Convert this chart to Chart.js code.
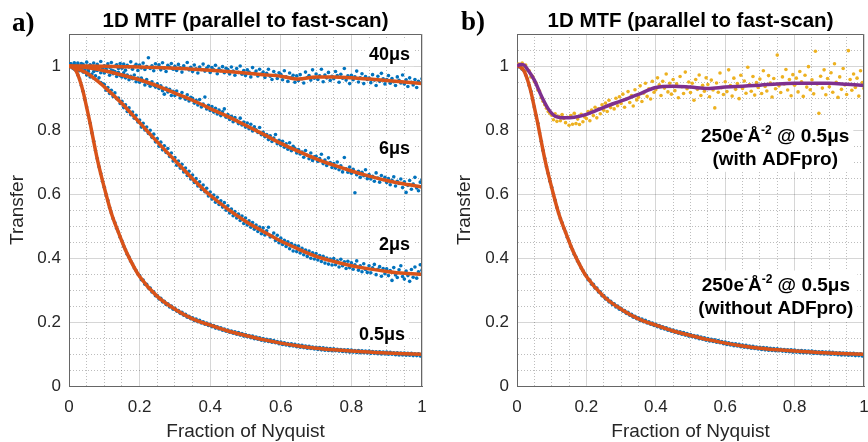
<!DOCTYPE html>
<html>
<head>
<meta charset="utf-8">
<script src="https://cdn.jsdelivr.net/npm/chart.js@4.4.1/dist/chart.umd.min.js"></script>
<style>
  body { margin:0; background:#fff; width:868px; height:442px; overflow:hidden; position:relative; }
  .panel { position:absolute; top:0; width:434px; height:442px; }
  #pa { left:0; }
  #pb { left:434px; }
  .tag { position:absolute; font:bold 27px 'Liberation Serif','Times New Roman',serif; color:#000; line-height:1; }
</style>
</head>
<body>
<div class="panel" id="pa"><canvas id="chartA"></canvas></div>
<div class="panel" id="pb"><canvas id="chartB"></canvas></div>
<div class="tag" style="left:12px;top:9px">a)</div>
<div class="tag" style="left:461px;top:8px">b)</div>
<script>
// ── données ────────────────────────────────────────────────────────────────
const panelTitle = '1D MTF (parallel to fast-scan)';
const xAxisTitle = 'Fraction of Nyquist';
const yAxisTitle = 'Transfer';
const xTickLabels = ['0', '0.2', '0.4', '0.6', '0.8', '1'];
const yTickLabels = ['0', '0.2', '0.4', '0.6', '0.8', '1'];
const runLabels = ['40μs', '6μs', '2μs', '0.5μs'];

// fréquences échantillonnées (fraction de Nyquist)
const nyq = [
  0, 0.005, 0.01, 0.015, 0.02, 0.025, 0.03, 0.035, 0.04, 0.045,
  0.05, 0.055, 0.06, 0.065, 0.07, 0.075, 0.08, 0.085, 0.09, 0.095,
  0.1, 0.105, 0.11, 0.115, 0.12, 0.125, 0.13, 0.135, 0.14, 0.145,
  0.15, 0.155, 0.16, 0.165, 0.17, 0.175, 0.18, 0.185, 0.19, 0.195,
  0.2, 0.205, 0.21, 0.215, 0.22, 0.225, 0.23, 0.235, 0.24, 0.245,
  0.25, 0.255, 0.26, 0.265, 0.27, 0.275, 0.28, 0.285, 0.29, 0.295,
  0.3, 0.305, 0.31, 0.315, 0.32, 0.325, 0.33, 0.335, 0.34, 0.345,
  0.35, 0.355, 0.36, 0.365, 0.37, 0.375, 0.38, 0.385, 0.39, 0.395,
  0.4, 0.405, 0.41, 0.415, 0.42, 0.425, 0.43, 0.435, 0.44, 0.445,
  0.45, 0.455, 0.46, 0.465, 0.47, 0.475, 0.48, 0.485, 0.49, 0.495,
  0.5, 0.505, 0.51, 0.515, 0.52, 0.525, 0.53, 0.535, 0.54, 0.545,
  0.55, 0.555, 0.56, 0.565, 0.57, 0.575, 0.58, 0.585, 0.59, 0.595,
  0.6, 0.605, 0.61, 0.615, 0.62, 0.625, 0.63, 0.635, 0.64, 0.645,
  0.65, 0.655, 0.66, 0.665, 0.67, 0.675, 0.68, 0.685, 0.69, 0.695,
  0.7, 0.705, 0.71, 0.715, 0.72, 0.725, 0.73, 0.735, 0.74, 0.745,
  0.75, 0.755, 0.76, 0.765, 0.77, 0.775, 0.78, 0.785, 0.79, 0.795,
  0.8, 0.805, 0.81, 0.815, 0.82, 0.825, 0.83, 0.835, 0.84, 0.845,
  0.85, 0.855, 0.86, 0.865, 0.87, 0.875, 0.88, 0.885, 0.89, 0.895,
  0.9, 0.905, 0.91, 0.915, 0.92, 0.925, 0.93, 0.935, 0.94, 0.945,
  0.95, 0.955, 0.96, 0.965, 0.97, 0.975, 0.98, 0.985, 0.99, 0.995,
  1
];

// points mesurés (bleus)
const mtf40 = [
  1.000, 1.006, 0.995, 1.010, 0.998, 1.004, 0.991, 1.008, 1.002, 0.996,
  1.012, 0.993, 1.003, 0.999, 1.009, 0.988, 1.005, 0.997, 1.014, 0.994,
  1.001, 0.990, 1.007, 0.996, 1.011, 0.985, 0.999, 1.004, 0.992, 1.008,
  0.993, 1.006, 0.987, 1.002, 0.997, 1.013, 0.990, 0.999, 1.005, 0.986,
  1.003, 0.994, 1.009, 0.989, 0.998, 1.026, 0.992, 1.001, 0.985, 1.007,
  0.996, 1.004, 0.988, 1.010, 0.993, 0.983, 1.002, 0.997, 1.008, 0.990,
  0.999, 0.986, 1.005, 0.994, 0.981, 1.001, 0.992, 1.011, 0.988, 0.996,
  0.983, 1.003, 0.991, 0.978, 0.997, 0.989, 1.006, 0.984, 0.993, 0.999,
  0.980, 0.995, 0.988, 1.002, 0.976, 0.991, 0.985, 0.998, 0.979, 0.993,
  0.989, 0.975, 0.997, 0.984, 0.971, 0.992, 0.980, 1.000, 0.974, 0.986,
  0.970, 0.988, 0.981, 0.966, 0.995, 0.977, 0.984, 0.969, 0.990, 0.975,
  0.981, 0.964, 0.977, 0.990, 0.968, 0.958, 0.983, 0.972, 0.961, 0.979,
  0.974, 0.957, 0.985, 0.966, 0.952, 0.978, 0.963, 0.971, 0.949, 0.969,
  0.955, 0.973, 0.960, 0.947, 0.981, 0.964, 0.970, 0.956, 0.988, 0.962,
  0.975, 0.958, 0.969, 0.990, 0.951, 0.972, 0.963, 0.980, 0.955, 0.968,
  0.960, 0.983, 0.970, 0.949, 0.974, 0.962, 0.992, 0.956, 0.969, 0.945,
  0.971, 0.957, 0.966, 0.984, 0.950, 0.963, 0.976, 0.945, 0.967, 0.958,
  0.962, 0.948, 0.973, 0.956, 0.939, 0.968, 0.952, 0.977, 0.960, 0.944,
  0.958, 0.970, 0.946, 0.961, 0.951, 0.939, 0.966, 0.955, 0.947, 0.972,
  0.944, 0.957, 0.936, 0.963, 0.949, 0.941, 0.958, 0.933, 0.952, 0.946,
  0.960
];
const mtf6 = [
  1.000, 1.007, 0.996, 1.004, 0.992, 1.009, 0.998, 0.990, 1.005, 0.994,
  0.999, 0.988, 1.003, 0.992, 0.983, 0.997, 0.986, 0.995, 0.979, 0.991,
  0.978, 0.990, 0.982, 0.971, 0.987, 0.976, 0.983, 0.967, 0.980, 0.970,
  0.966, 0.979, 0.963, 0.972, 0.957, 0.968, 0.960, 0.972, 0.951, 0.962,
  0.949, 0.962, 0.953, 0.941, 0.958, 0.945, 0.937, 0.951, 0.940, 0.934,
  0.944, 0.930, 0.938, 0.923, 0.912, 0.931, 0.919, 0.927, 0.908, 0.921,
  0.908, 0.922, 0.911, 0.900, 0.917, 0.903, 0.896, 0.910, 0.891, 0.902,
  0.899, 0.884, 0.893, 0.878, 0.895, 0.872, 0.881, 0.903, 0.866, 0.877,
  0.861, 0.873, 0.856, 0.868, 0.850, 0.862, 0.845, 0.857, 0.866, 0.840,
  0.848, 0.833, 0.843, 0.826, 0.839, 0.830, 0.820, 0.837, 0.816, 0.825,
  0.809, 0.822, 0.804, 0.818, 0.797, 0.810, 0.801, 0.792, 0.808, 0.785,
  0.793, 0.779, 0.786, 0.770, 0.782, 0.764, 0.775, 0.786, 0.757, 0.768,
  0.752, 0.765, 0.746, 0.757, 0.740, 0.760, 0.735, 0.749, 0.742, 0.728,
  0.739, 0.725, 0.731, 0.715, 0.736, 0.721, 0.710, 0.728, 0.705, 0.716,
  0.718, 0.702, 0.711, 0.724, 0.695, 0.706, 0.689, 0.713, 0.698, 0.683,
  0.695, 0.681, 0.700, 0.676, 0.688, 0.669, 0.714, 0.679, 0.668, 0.684,
  0.665, 0.677, 0.604, 0.660, 0.671, 0.652, 0.668, 0.657, 0.676, 0.648,
  0.661, 0.647, 0.655, 0.640, 0.666, 0.650, 0.637, 0.658, 0.645, 0.652,
  0.636, 0.648, 0.629, 0.643, 0.654, 0.625, 0.640, 0.633, 0.647, 0.620,
  0.638, 0.605, 0.627, 0.642, 0.615, 0.631, 0.652, 0.619, 0.610, 0.637,
  0.645
];
const mtf2 = [
  1.000, 1.005, 0.994, 1.003, 0.989, 0.998, 0.985, 0.993, 0.981, 0.988,
  0.972, 0.983, 0.966, 0.975, 0.962, 0.969, 0.955, 0.963, 0.948, 0.944,
  0.942, 0.924, 0.933, 0.914, 0.924, 0.905, 0.916, 0.898, 0.900, 0.883,
  0.890, 0.870, 0.879, 0.858, 0.869, 0.848, 0.856, 0.837, 0.846, 0.825,
  0.831, 0.809, 0.821, 0.800, 0.809, 0.789, 0.799, 0.777, 0.787, 0.763,
  0.773, 0.749, 0.762, 0.738, 0.751, 0.730, 0.742, 0.717, 0.728, 0.703,
  0.714, 0.690, 0.703, 0.681, 0.693, 0.669, 0.681, 0.658, 0.671, 0.647,
  0.659, 0.636, 0.648, 0.625, 0.638, 0.614, 0.628, 0.607, 0.618, 0.594,
  0.606, 0.584, 0.597, 0.574, 0.590, 0.567, 0.579, 0.559, 0.573, 0.549,
  0.563, 0.541, 0.553, 0.532, 0.545, 0.525, 0.537, 0.517, 0.531, 0.508,
  0.525, 0.503, 0.516, 0.496, 0.511, 0.490, 0.503, 0.483, 0.497, 0.476,
  0.494, 0.472, 0.485, 0.496, 0.466, 0.469, 0.478, 0.455, 0.471, 0.448,
  0.462, 0.442, 0.455, 0.436, 0.451, 0.429, 0.445, 0.422, 0.440, 0.420,
  0.437, 0.416, 0.430, 0.410, 0.425, 0.405, 0.422, 0.399, 0.416, 0.397,
  0.414, 0.394, 0.408, 0.389, 0.405, 0.384, 0.400, 0.381, 0.397, 0.378,
  0.398, 0.379, 0.391, 0.372, 0.396, 0.376, 0.388, 0.367, 0.390, 0.370,
  0.385, 0.365, 0.379, 0.391, 0.362, 0.376, 0.357, 0.382, 0.364, 0.355,
  0.376, 0.354, 0.369, 0.380, 0.348, 0.365, 0.373, 0.343, 0.367, 0.351,
  0.366, 0.345, 0.361, 0.330, 0.370, 0.347, 0.339, 0.363, 0.376, 0.342,
  0.334, 0.359, 0.345, 0.327, 0.364, 0.340, 0.372, 0.337, 0.357, 0.379,
  0.362
];
const mtf05 = [
  1.000, 0.998, 0.997, 0.990, 0.986, 0.972, 0.959, 0.939, 0.921, 0.895,
  0.872, 0.845, 0.821, 0.791, 0.765, 0.736, 0.711, 0.685, 0.664, 0.640,
  0.621, 0.598, 0.580, 0.558, 0.541, 0.523, 0.510, 0.493, 0.481, 0.465,
  0.453, 0.437, 0.426, 0.412, 0.403, 0.390, 0.381, 0.369, 0.361, 0.350,
  0.345, 0.332, 0.331, 0.318, 0.318, 0.306, 0.306, 0.294, 0.294, 0.282,
  0.283, 0.272, 0.274, 0.263, 0.265, 0.255, 0.257, 0.247, 0.250, 0.240,
  0.243, 0.234, 0.236, 0.227, 0.230, 0.221, 0.224, 0.215, 0.218, 0.210,
  0.213, 0.205, 0.209, 0.201, 0.205, 0.197, 0.201, 0.193, 0.197, 0.189,
  0.193, 0.185, 0.189, 0.181, 0.185, 0.178, 0.182, 0.174, 0.178, 0.171,
  0.175, 0.168, 0.172, 0.165, 0.169, 0.162, 0.167, 0.159, 0.164, 0.156,
  0.161, 0.154, 0.158, 0.151, 0.156, 0.148, 0.153, 0.146, 0.151, 0.143,
  0.148, 0.141, 0.146, 0.139, 0.144, 0.137, 0.142, 0.135, 0.139, 0.132,
  0.137, 0.130, 0.135, 0.128, 0.133, 0.126, 0.132, 0.125, 0.130, 0.123,
  0.128, 0.121, 0.127, 0.120, 0.125, 0.118, 0.124, 0.117, 0.122, 0.116,
  0.121, 0.114, 0.120, 0.113, 0.119, 0.112, 0.118, 0.111, 0.117, 0.110,
  0.116, 0.110, 0.115, 0.109, 0.114, 0.108, 0.113, 0.107, 0.113, 0.106,
  0.112, 0.106, 0.111, 0.105, 0.111, 0.104, 0.110, 0.104, 0.109, 0.103,
  0.109, 0.102, 0.108, 0.102, 0.107, 0.101, 0.107, 0.100, 0.106, 0.100,
  0.106, 0.099, 0.105, 0.099, 0.104, 0.098, 0.104, 0.097, 0.103, 0.097,
  0.103, 0.096, 0.102, 0.096, 0.102, 0.095, 0.101, 0.095, 0.101, 0.094,
  0.099
];
// points mesurés avec ADFpro (jaunes)
const mtfPro = [
  1.002, 1.006, 1.001, 1.009, 0.998, 1.003, 0.986, 0.985, 0.966, 0.968,
  0.951, 0.947, 0.925, 0.922, 0.901, 0.890, 0.879, 0.868, 0.858, 0.852,
  0.846, 0.832, 0.851, 0.827, 0.843, 0.829, 0.848, 0.836, 0.823, 0.840,
  0.815, 0.845, 0.818, 0.852, 0.820, 0.834, 0.817, 0.849, 0.826, 0.841,
  0.836, 0.858, 0.829, 0.862, 0.845, 0.871, 0.838, 0.866, 0.851, 0.879,
  0.862, 0.884, 0.858, 0.893, 0.870, 0.881, 0.866, 0.899, 0.876, 0.904,
  0.883, 0.912, 0.871, 0.897, 0.920, 0.886, 0.908, 0.875, 0.926, 0.894,
  0.902, 0.938, 0.889, 0.915, 0.946, 0.905, 0.929, 0.897, 0.952, 0.918,
  0.926, 0.963, 0.941, 0.908, 0.952, 0.931, 0.975, 0.919, 0.946, 0.912,
  0.958, 0.923, 0.944, 0.901, 0.967, 0.935, 0.914, 0.981, 0.929, 0.950,
  0.917, 0.946, 0.893, 0.958, 0.927, 0.972, 0.908, 0.940, 0.921, 0.963,
  0.942, 0.904, 0.956, 0.925, 0.869, 0.947, 0.918, 0.978, 0.932, 0.911,
  0.951, 0.920, 0.988, 0.939, 0.906, 0.962, 0.927, 0.945, 0.898, 0.971,
  0.930, 0.953, 0.915, 0.996, 0.942, 0.921, 0.967, 0.909, 0.948, 0.933,
  0.959, 0.914, 0.985, 0.936, 0.922, 0.970, 0.947, 0.903, 0.961, 0.929,
  1.034, 0.938, 0.917, 0.966, 0.944, 0.989, 0.925, 0.958, 0.907, 0.973,
  0.940, 0.962, 0.919, 0.983, 0.951, 0.905, 0.971, 0.934, 0.998, 0.926,
  0.957, 0.913, 1.046, 0.944, 0.852, 0.968, 0.931, 0.988, 0.910, 0.961,
  0.935, 0.979, 0.918, 1.007, 0.949, 0.902, 0.966, 0.927, 0.992, 0.941,
  0.911, 1.048, 0.958, 0.924, 0.975, 0.933, 0.962, 0.906, 0.985, 0.948,
  0.930
];

// courbes ajustées
const fitX = [0, 0.05, 0.1, 0.15, 0.2, 0.25, 0.3, 0.35, 0.4, 0.45, 0.5,
              0.55, 0.6, 0.65, 0.7, 0.75, 0.8, 0.85, 0.9, 0.95, 1];
const fit40 = [1.000, 1.000, 0.999, 0.998, 0.997, 0.995, 0.993, 0.990, 0.987, 0.983, 0.978,
               0.973, 0.968, 0.959, 0.966, 0.966, 0.963, 0.959, 0.955, 0.950, 0.945];
const fit6  = [1.000, 0.995, 0.985, 0.972, 0.957, 0.938, 0.915, 0.893, 0.867, 0.842, 0.815,
               0.787, 0.758, 0.733, 0.710, 0.690, 0.672, 0.656, 0.642, 0.631, 0.622];
const fit2  = [1.000, 0.978, 0.935, 0.883, 0.823, 0.763, 0.705, 0.648, 0.596, 0.553, 0.515,
               0.483, 0.453, 0.428, 0.405, 0.389, 0.376, 0.366, 0.358, 0.352, 0.349];
const fit05X = [0, 0.01, 0.02, 0.03, 0.04, 0.05, 0.06, 0.07, 0.08, 0.09, 0.1, 0.12, 0.14, 0.16,
                0.18, 0.2, 0.25, 0.3, 0.35, 0.4, 0.45, 0.5, 0.55, 0.6, 0.65, 0.7, 0.75, 0.8,
                0.85, 0.9, 0.95, 1];
const fit05 = [1.000, 0.996, 0.985, 0.958, 0.920, 0.871, 0.820, 0.764, 0.710, 0.663, 0.620,
               0.540, 0.480, 0.425, 0.380, 0.342, 0.280, 0.240, 0.210, 0.190, 0.172, 0.158,
               0.145, 0.134, 0.125, 0.118, 0.113, 0.109, 0.106, 0.103, 0.101, 0.099];
const fitProX = [0, 0.01, 0.02, 0.03, 0.05, 0.07, 0.09, 0.11, 0.135, 0.165, 0.2, 0.25, 0.3,
                 0.35, 0.4, 0.45, 0.5, 0.55, 0.6, 0.65, 0.7, 0.75, 0.8, 0.85, 0.9, 0.95, 1];
const fitPro = [1.000, 1.005, 1.003, 0.990, 0.956, 0.907, 0.866, 0.843, 0.838, 0.840, 0.849,
                0.871, 0.891, 0.911, 0.933, 0.937, 0.934, 0.930, 0.934, 0.937, 0.940, 0.944,
                0.946, 0.946, 0.946, 0.943, 0.939];

// ── style ──────────────────────────────────────────────────────────────────
const FONT = "'Liberation Sans', Arial, Helvetica, sans-serif";
const BLUE = '#0072BD', ORANGE = '#D95319', YELLOW = '#EDB120', PURPLE = '#7E2F8E';
const AXIS = '#262626';

const pts = (xs, ys) => xs.map((x, i) => ({ x, y: ys[i] }));
const isMajor = v => Math.abs(v / 0.2 - Math.round(v / 0.2)) < 1e-6;

function scatterSet(ys, color) {
  return { data: pts(nyq, ys), showLine: false, pointRadius: 1.8, pointBorderWidth: 0,
           backgroundColor: color, borderColor: color, order: 2 };
}
function fitSet(xs, ys, color) {
  return { data: pts(xs, ys), showLine: true, pointRadius: 0, borderWidth: 3.5,
           borderColor: color, cubicInterpolationMode: 'monotone', order: 1 };
}

// cadre complet (style MATLAB "box on")
const boxPlugin = {
  id: 'box',
  afterDatasetsDraw(chart) {
    const { ctx, chartArea: a } = chart;
    ctx.save();
    ctx.strokeStyle = '#666'; ctx.lineWidth = 1;
    ctx.beginPath();
    ctx.moveTo(Math.round(a.left) + 0.5, Math.round(a.top) + 0.5);
    ctx.lineTo(Math.round(a.right) - 0.5, Math.round(a.top) + 0.5);
    ctx.lineTo(Math.round(a.right) - 0.5, Math.round(a.bottom) + 0.5);
    ctx.stroke();
    ctx.restore();
  }
};

// annotations texte avec fond blanc, ancrées en coordonnées de données
const notesPlugin = {
  id: 'notes',
  beforeDatasetsDraw(chart, args, opts) {
    const { ctx, scales: { x, y } } = chart;
    const size = opts.size || 18;
    const fontOf = s => `bold ${s.sup ? Math.round(size * 0.62) : size}px ${FONT}`;
    ctx.save();
    (opts.items || []).forEach(it => {
      const px = x.getPixelForValue(it.x), py = y.getPixelForValue(it.y);
      const lh = size * 1.22;
      const widths = it.lines.map(segs => segs.reduce((w, s) => {
        ctx.font = fontOf(s); return w + ctx.measureText(s.t).width;
      }, 0));
      const boxW = Math.max(...widths) + 8, boxH = lh * it.lines.length + 4;
      const left = it.align === 'right' ? px - boxW + 4 : px - boxW / 2;
      const top = py - boxH / 2;
      ctx.fillStyle = '#fff';
      ctx.fillRect(left, top, boxW, boxH);
      ctx.fillStyle = '#000';
      ctx.textBaseline = 'alphabetic';
      ctx.textAlign = 'left';
      it.lines.forEach((segs, li) => {
        let cx = it.align === 'right' ? px - widths[li] : px - widths[li] / 2;
        const base = top + 2 + lh * li + size * 0.98;
        segs.forEach(s => {
          ctx.font = fontOf(s);
          ctx.fillText(s.t, cx, s.sup ? base - size * 0.42 : base);
          cx += ctx.measureText(s.t).width;
        });
      });
    });
    ctx.restore();
  }
};

function axisOpts(max, labels, title, extra) {
  return Object.assign({
    type: 'linear', min: 0, max,
    ticks: {
      stepSize: 0.05, autoSkip: false, maxTicksLimit: 50, maxRotation: 0,
      color: AXIS, font: { size: 17, family: FONT },
      callback: v => isMajor(v) ? (labels[Math.round(v / 0.2)] ?? '') : ''
    },
    grid: {
      drawTicks: false, lineWidth: 1,
      color: c => (c.tick && !isMajor(c.tick.value)) ? 'rgba(38,38,38,0.30)' : 'rgba(38,38,38,0.19)'
    },
    border: {
      color: '#666', width: 1,
      dash: c => (c.tick && !isMajor(c.tick.value)) ? [1, 2] : []
    },
    title: { display: true, text: title, color: AXIS, font: { size: 19, family: FONT, lineHeight: 1 } }
  }, extra);
}

function makeChart(id, datasets, yWidth, yTitlePad, rightPad, notes) {
  const xAx = axisOpts(1, xTickLabels, xAxisTitle, {
    afterFit: s => { s.height = 56; s.paddingLeft = 0; s.paddingRight = 0; }
  });
  xAx.ticks.padding = 11;
  xAx.title.padding = { top: 0, bottom: 1 };
  const yAx = axisOpts(1.1, yTickLabels, yAxisTitle, {
    afterFit: s => { s.width = yWidth; s.paddingTop = 0; s.paddingBottom = 0; }
  });
  yAx.ticks.padding = 8;
  yAx.title.padding = { top: yTitlePad, bottom: 0 };

  return new Chart(document.getElementById(id), {
    type: 'scatter',
    data: { datasets },
    options: {
      responsive: true,
      maintainAspectRatio: false,
      animation: false,
      events: [],
      layout: { padding: { top: 0, right: rightPad, bottom: 0, left: 0 } },
      plugins: {
        legend: { display: false },
        tooltip: { enabled: false },
        title: {
          display: true, text: panelTitle, color: '#000', fullSize: false,
          font: { size: 20.5, weight: 'bold', family: FONT, lineHeight: 1.2 },
          padding: { top: 9, bottom: 0.4 }
        },
        notes
      },
      scales: { x: xAx, y: yAx }
    },
    plugins: [notesPlugin, boxPlugin]
  });
}

// ── panneau a) ─────────────────────────────────────────────────────────────
makeChart('chartA', [
  fitSet(fitX, fit40, ORANGE),
  fitSet(fitX, fit6, ORANGE),
  fitSet(fitX, fit2, ORANGE),
  fitSet(fit05X, fit05, ORANGE),
  scatterSet(mtf40, BLUE),
  scatterSet(mtf6, BLUE),
  scatterSet(mtf2, BLUE),
  scatterSet(mtf05, BLUE)
], 69, 8.5, 12, {
  size: 18,
  items: [
    { x: 0.966, y: 1.040, align: 'right', lines: [[{ t: runLabels[0] }]] },
    { x: 0.966, y: 0.747, align: 'right', lines: [[{ t: runLabels[1] }]] },
    { x: 0.966, y: 0.447, align: 'right', lines: [[{ t: runLabels[2] }]] },
    { x: 0.952, y: 0.166, align: 'right', lines: [[{ t: runLabels[3] }]] }
  ]
});

// ── panneau b) ─────────────────────────────────────────────────────────────
const doseLine = [{ t: '250e' }, { t: '-', sup: true }, { t: 'Å' }, { t: '-2', sup: true }, { t: ' @ 0.5μs' }];
makeChart('chartB', [
  fitSet(fitProX, fitPro, PURPLE),
  fitSet(fit05X, fit05, ORANGE),
  scatterSet(mtfPro, YELLOW),
  scatterSet(mtf05, BLUE)
], 83, 21.5, 1, {
  size: 19,
  items: [
    { x: 0.744, y: 0.748, align: 'center', lines: [doseLine, [{ t: '(with ADFpro)' }]] },
    { x: 0.746, y: 0.282, align: 'center', lines: [doseLine, [{ t: '(without ADFpro)' }]] }
  ]
});
</script>
</body>
</html>
